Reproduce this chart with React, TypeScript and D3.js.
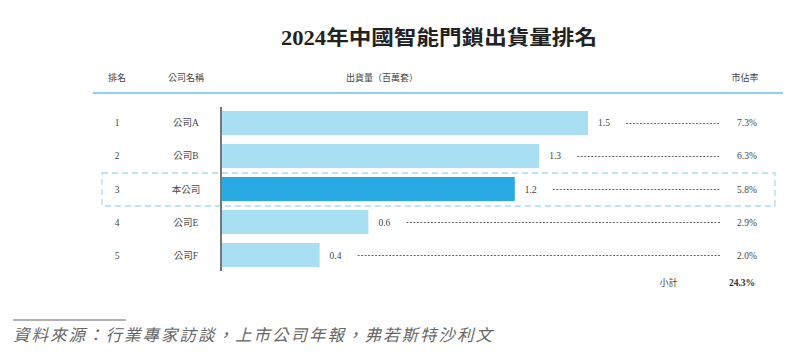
import { useEffect, useRef } from 'react';
import * as d3 from 'd3';

const ranks = ['1', '2', '3', '4', '5'];
const companies = ['公司A', '公司B', '本公司', '公司E', '公司F'];
const shipments = [1.5, 1.3, 1.2, 0.6, 0.4];
const shares = ['7.3%', '6.3%', '5.8%', '2.9%', '2.0%'];
const highlight = '本公司';
const subtotalLabel = '小計';
const subtotalValue = '24.3%';
const headers = ['排名', '公司名稱', '出貨量（百萬套）', '市佔率'];
const title = '2024年中國智能門鎖出貨量排名';
const source = '資料來源：行業專家訪談，上市公司年報，弗若斯特沙利文';

const FONT = '"Liberation Serif", "Noto Sans CJK TC", serif';

export default function App() {
  const svgRef = useRef<SVGSVGElement>(null);

  useEffect(() => {
    if (!svgRef.current) return;
    const svg = d3.select(svgRef.current);
    svg.selectAll('*').remove();

    const width = 801;
    const height = 360;
    svg.attr('width', width).attr('height', height);

    const xScale = d3.scaleLinear().domain([0, 1.5]).range([222, 588]);
    const yScale = d3
      .scaleBand<string>()
      .domain(companies)
      .range([106.5, 271.5])
      .paddingInner(0.273)
      .paddingOuter(0.136);

    const rankX = 117;
    const nameX = 186;
    const shareX = 747;
    const dotEnd = 720;

    // title
    svg
      .append('text')
      .attr('x', 281)
      .attr('y', 45)
      .attr('textLength', 316)
      .attr('lengthAdjust', 'spacingAndGlyphs')
      .style('font-family', FONT)
      .style('font-weight', 'bold')
      .style('font-size', '20px')
      .attr('fill', '#222')
      .text(title);

    // header
    const headerX = [117, 186, 382, 745];
    headers.forEach((h, i) => {
      svg
        .append('text')
        .attr('x', headerX[i])
        .attr('y', 80.5)
        .attr('text-anchor', 'middle')
        .style('font-family', FONT)
        .style('font-size', '9px')
        .attr('fill', '#444')
        .text(h);
    });

    svg
      .append('line')
      .attr('x1', 93)
      .attr('x2', 783)
      .attr('y1', 93)
      .attr('y2', 93)
      .attr('stroke', '#8fd0ee')
      .attr('stroke-width', 2);

    // highlight dashed box
    const hy = yScale(highlight)!;
    svg
      .append('rect')
      .attr('x', 102)
      .attr('y', hy - 4)
      .attr('width', 673)
      .attr('height', yScale.bandwidth() + 9)
      .attr('fill', 'none')
      .attr('stroke', '#a8dcf0')
      .attr('stroke-width', 1.3)
      .attr('stroke-dasharray', '6,4');

    const rows = svg
      .selectAll('.row')
      .data(companies)
      .enter()
      .append('g')
      .attr('class', 'row');

    rows
      .append('rect')
      .attr('x', xScale(0))
      .attr('y', (d) => yScale(d)!)
      .attr('width', (_, i) => xScale(shipments[i]) - xScale(0))
      .attr('height', yScale.bandwidth())
      .attr('fill', (d) => (d === highlight ? '#29a9e1' : '#a9dff2'));

    const cy = (d: string) => yScale(d)! + yScale.bandwidth() / 2 + 3.5;

    rows
      .append('text')
      .attr('x', rankX)
      .attr('y', cy)
      .attr('text-anchor', 'middle')
      .style('font-family', FONT)
      .style('font-size', '9.5px')
      .attr('fill', '#444')
      .text((_, i) => ranks[i]);

    rows
      .append('text')
      .attr('x', nameX)
      .attr('y', cy)
      .attr('text-anchor', 'middle')
      .style('font-family', FONT)
      .style('font-size', '9.5px')
      .attr('fill', '#444')
      .text((d) => d);

    rows
      .append('text')
      .attr('x', (_, i) => xScale(shipments[i]) + 10)
      .attr('y', cy)
      .style('font-family', FONT)
      .style('font-size', '9.5px')
      .attr('fill', '#444')
      .text((_, i) => d3.format('.1f')(shipments[i]));

    rows
      .append('line')
      .attr('x1', (_, i) => xScale(shipments[i]) + 38)
      .attr('x2', dotEnd)
      .attr('y1', (d) => yScale(d)! + yScale.bandwidth() / 2 + 0.5)
      .attr('y2', (d) => yScale(d)! + yScale.bandwidth() / 2 + 0.5)
      .attr('stroke', '#666')
      .attr('stroke-width', 1)
      .attr('stroke-dasharray', '2,1.5');

    rows
      .append('text')
      .attr('x', shareX)
      .attr('y', cy)
      .attr('text-anchor', 'middle')
      .style('font-family', FONT)
      .style('font-size', '9.5px')
      .attr('fill', '#444')
      .text((_, i) => shares[i]);

    // axis line
    svg
      .append('line')
      .attr('x1', 221)
      .attr('x2', 221)
      .attr('y1', 107)
      .attr('y2', 271)
      .attr('stroke', '#777')
      .attr('stroke-width', 2);

    // subtotal
    svg
      .append('text')
      .attr('x', 668.5)
      .attr('y', 285.5)
      .attr('text-anchor', 'middle')
      .style('font-family', FONT)
      .style('font-size', '9px')
      .attr('fill', '#444')
      .text(subtotalLabel);

    svg
      .append('text')
      .attr('x', 742)
      .attr('y', 285.5)
      .attr('text-anchor', 'middle')
      .style('font-family', FONT)
      .style('font-weight', 'bold')
      .style('font-size', '9.5px')
      .attr('fill', '#333')
      .text(subtotalValue);

    // footer
    svg
      .append('line')
      .attr('x1', 13)
      .attr('x2', 126)
      .attr('y1', 320)
      .attr('y2', 320)
      .attr('stroke', '#666')
      .attr('stroke-width', 1);

    svg
      .append('text')
      .attr('x', 13)
      .attr('y', 341)
      .attr('textLength', 479)
      .attr('lengthAdjust', 'spacing')
      .style('font-family', FONT)
      .style('font-style', 'italic')
      .style('font-size', '16.5px')
      .attr('fill', '#666')
      .text(source);
  }, []);

  return (
    <svg
      ref={svgRef}
      style={{ position: 'absolute', left: 0, top: 0, display: 'block', background: '#fff' }}
    ></svg>
  );
}
